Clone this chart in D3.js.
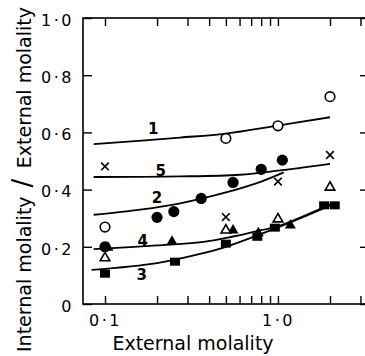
<!DOCTYPE html>
<html>
<head>
<meta charset="utf-8">
<script src="https://cdn.jsdelivr.net/npm/d3@7"></script>
<style>
body{margin:0;background:#fff}
text{font-family:"DejaVu Sans",sans-serif;fill:#000}
</style>
</head>
<body>
<div id="chart"></div>
<script>
// fitted curves, numbered 1..5
var curve1X = [0.086, 0.272, 0.5, 1.0, 2.0]
var curve1Y = [0.559, 0.582, 0.596, 0.624, 0.653]
var curve5X = [0.086, 0.272, 0.6, 1.0, 2.0]
var curve5Y = [0.444, 0.446, 0.452, 0.466, 0.49]
var curve2X = [0.086, 0.16, 0.272, 0.5, 0.8, 1.08]
var curve2Y = [0.312, 0.33, 0.352, 0.39, 0.428, 0.46]
var curve4X = [0.086, 0.2, 0.38, 0.55, 0.8, 1.0, 2.0]
var curve4Y = [0.192, 0.205, 0.218, 0.236, 0.258, 0.272, 0.348]
var curve3X = [0.0837, 0.2, 0.355, 0.5, 1.0, 2.0]
var curve3Y = [0.119, 0.143, 0.175, 0.2, 0.268, 0.344]

// measured points
var openCircleX = [0.1, 0.5, 1.0, 2.0]
var openCircleY = [0.269, 0.579, 0.623, 0.725]
var crossX = [0.1, 0.5, 1.0, 2.0]
var crossY = [0.481, 0.304, 0.428, 0.521]
var dotX = [0.1, 0.2, 0.25, 0.36, 0.55, 0.8, 1.06]
var dotY = [0.2, 0.303, 0.323, 0.369, 0.425, 0.471, 0.503]
var openTriX = [0.1, 0.5, 1.0, 2.0]
var openTriY = [0.161, 0.258, 0.297, 0.408]
var triX = [0.104, 0.244, 0.55, 0.77, 1.18]
var triY = [0.197, 0.218, 0.258, 0.248, 0.275]
var squareX = [0.1, 0.254, 0.5, 0.76, 0.96, 1.85, 2.13]
var squareY = [0.106, 0.148, 0.211, 0.235, 0.267, 0.345, 0.345]

var curveNames = ['1', '5', '2', '4', '3']
var xTicks = [0.1, 0.2, 0.3, 0.4, 0.5, 0.6, 0.7, 0.8, 0.9, 1, 2, 3]
var xTickLabels = {0.1: '0·1', 1: '1·0'}
var yTicks = [0, 0.2, 0.4, 0.6, 0.8, 1.0]
var yTickLabels = ['0', '0·2', '0·4', '0·6', '0·8', '1·0']

var width = 365, height = 356
var frameL = 83, frameR = 366, frameT = 18, frameB = 304

var svg = d3.select('#chart').append('svg')
    .attr('width', width)
    .attr('height', height)

var x = d3.scaleLog().domain([0.1, 2]).range([105, 330])
var y = d3.scaleLinear().domain([0, 1]).range([frameB, frameT])

// frame
svg.append('rect')
    .attr('x', frameL).attr('y', frameT)
    .attr('width', frameR - frameL).attr('height', frameB - frameT)
    .attr('fill', 'none').attr('stroke', '#000').attr('stroke-width', 1.6)

// ticks, all pointing inward
var fmt = function(d){ return xTickLabels[d] || '' }
var xb = svg.append('g').attr('transform', 'translate(0,' + frameB + ')')
    .call(d3.axisBottom(x).tickValues(xTicks).tickFormat(fmt).tickSize(-8).tickPadding(11))
var xt = svg.append('g').attr('transform', 'translate(0,' + frameT + ')')
    .call(d3.axisTop(x).tickValues(xTicks).tickFormat('').tickSize(-8))
var yl = svg.append('g').attr('transform', 'translate(' + frameL + ',0)')
    .call(d3.axisLeft(y).tickValues(yTicks).tickFormat(function(d, i){ return yTickLabels[i] }).tickSize(-9).tickPadding(9))
var yr = svg.append('g').attr('transform', 'translate(' + frameR + ',0)')
    .call(d3.axisRight(y).tickValues(yTicks).tickFormat('').tickSize(-6))

svg.selectAll('.domain').remove()
svg.selectAll('.tick line').attr('stroke', '#000').attr('stroke-width', 1.4)
svg.selectAll('.tick text')
    .style('font-family', '"DejaVu Sans",sans-serif')
    .style('font-size', '16px')
    .style('letter-spacing', '2.5px')
    .attr('fill', '#000')
yl.selectAll('.tick text').attr('dy', '0.45em')

// axis titles
svg.append('text')
    .attr('x', 193).attr('y', 350)
    .attr('text-anchor', 'middle')
    .style('font-size', '19px')
    .text('External molality')

svg.append('text')
    .attr('transform', 'translate(31,352) rotate(-90)')
    .attr('text-anchor', 'start')
    .style('font-size', '19px')
    .text('Internal molality')
svg.append('text')
    .attr('transform', 'translate(31,183) rotate(-90)')
    .attr('text-anchor', 'middle')
    .style('font-size', '26px')
    .text('/')
svg.append('text')
    .attr('transform', 'translate(31,7) rotate(-90)')
    .attr('text-anchor', 'end')
    .style('font-size', '19px')
    .text('External molality')

// curves
var line = d3.line()
    .x(function(d){ return x(d[0]) })
    .y(function(d){ return y(d[1]) })
    .curve(d3.curveCatmullRom)

var curves = [[curve1X, curve1Y], [curve5X, curve5Y], [curve2X, curve2Y], [curve4X, curve4Y], [curve3X, curve3Y]]
curves.forEach(function(c){
    var pts = c[0].map(function(v, i){ return [v, c[1][i]] })
    svg.append('path')
        .attr('d', line(pts))
        .attr('fill', 'none')
        .attr('stroke', '#000')
        .attr('stroke-width', 1.8)
})

// curve numbers
var labelPos = [[0.19, 0.613], [0.21, 0.468], [0.2, 0.372], [0.165, 0.223], [0.163, 0.104]]
labelPos.forEach(function(p, i){
    svg.append('text')
        .attr('x', x(p[0])).attr('y', y(p[1]))
        .attr('text-anchor', 'middle')
        .attr('dy', '0.36em')
        .style('font-size', '15px')
        .style('font-weight', 'bold')
        .text(curveNames[i])
})

function zip(a, b){ return a.map(function(v, i){ return [v, b[i]] }) }

var g = svg.append('g')

g.selectAll('.sq').data(zip(squareX, squareY)).enter().append('rect')
    .attr('x', function(d){ return x(d[0]) - 5 })
    .attr('y', function(d){ return y(d[1]) - 4 })
    .attr('width', 10).attr('height', 8)
    .attr('fill', '#000')

var tri = d3.symbol().type(d3.symbolTriangle).size(52)
g.selectAll('.tri').data(zip(triX, triY)).enter().append('path')
    .attr('d', tri)
    .attr('transform', function(d){ return 'translate(' + x(d[0]) + ',' + y(d[1]) + ')' })
    .attr('fill', '#000')

var otri = d3.symbol().type(d3.symbolTriangle).size(40)
g.selectAll('.otri').data(zip(openTriX, openTriY)).enter().append('path')
    .attr('d', otri)
    .attr('transform', function(d){ return 'translate(' + x(d[0]) + ',' + y(d[1]) + ')' })
    .attr('fill', '#fff').attr('stroke', '#000').attr('stroke-width', 1.6)

g.selectAll('.dot').data(zip(dotX, dotY)).enter().append('circle')
    .attr('cx', function(d){ return x(d[0]) })
    .attr('cy', function(d){ return y(d[1]) })
    .attr('r', 5.6)
    .attr('fill', '#000')

g.selectAll('.ocirc').data(zip(openCircleX, openCircleY)).enter().append('circle')
    .attr('cx', function(d){ return x(d[0]) })
    .attr('cy', function(d){ return y(d[1]) })
    .attr('r', 4.8)
    .attr('fill', '#fff').attr('stroke', '#000').attr('stroke-width', 1.6)

var cross = d3.symbol().type(d3.symbolX).size(40)
g.selectAll('.cross').data(zip(crossX, crossY)).enter().append('path')
    .attr('d', cross)
    .attr('transform', function(d){ return 'translate(' + x(d[0]) + ',' + y(d[1]) + ')' })
    .attr('fill', 'none').attr('stroke', '#000').attr('stroke-width', 1.6)
</script>
</body>
</html>
